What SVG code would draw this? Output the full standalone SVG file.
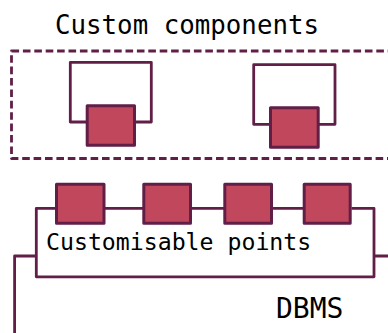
<svg xmlns="http://www.w3.org/2000/svg" width="388" height="333" viewBox="0 0 388 333">
<style>
.w{fill:none;stroke:#611f47;stroke-width:2.800;stroke-linejoin:round}
.b{fill:#c1475c;stroke:#611f47;stroke-width:3;stroke-linejoin:round}
text{font-family:"DejaVu Sans Mono",monospace;fill:#000}
</style>
<rect width="388" height="333" fill="#fff"/>
<text x="55" y="33.500" font-size="25.800">Custom components</text>
<g id="custom-components"><rect class="w" x="11.500" y="51" width="400" height="107.500" stroke-dasharray="7.600 3.800"/></g>
<g id="connectors">
<path class="w" d="M87 122H70.300V62.300H151.300V122H135"/>
<path class="w" d="M270 124.300H253.700V64.700H335V124.300H318.500"/>
<path class="w" d="M56 208.300H36.300V276.800H374V208.300H351.500M104.500 208.300H143M191.500 208.300H224M272.500 208.300H303"/>
<path class="w" d="M36.300 256H14.600V333M374 256H388"/>
</g>
<g id="c1"><rect class="b" x="87.200" y="105.800" width="47.300" height="39.400"/></g>
<g id="c2"><rect class="b" x="270.500" y="107.800" width="47.700" height="39.400"/></g>
<g id="p1"><rect class="b" x="56.500" y="184.200" width="47.500" height="39"/></g>
<g id="p2"><rect class="b" x="143.800" y="184.200" width="46.700" height="39"/></g>
<g id="p3"><rect class="b" x="224.800" y="184.200" width="46.700" height="39"/></g>
<g id="p4"><rect class="b" x="304.200" y="184.200" width="46" height="39"/></g>
<text x="46" y="250" font-size="23.200">Customisable points</text>
<text x="276" y="318" font-size="28">DBMS</text>
</svg>
